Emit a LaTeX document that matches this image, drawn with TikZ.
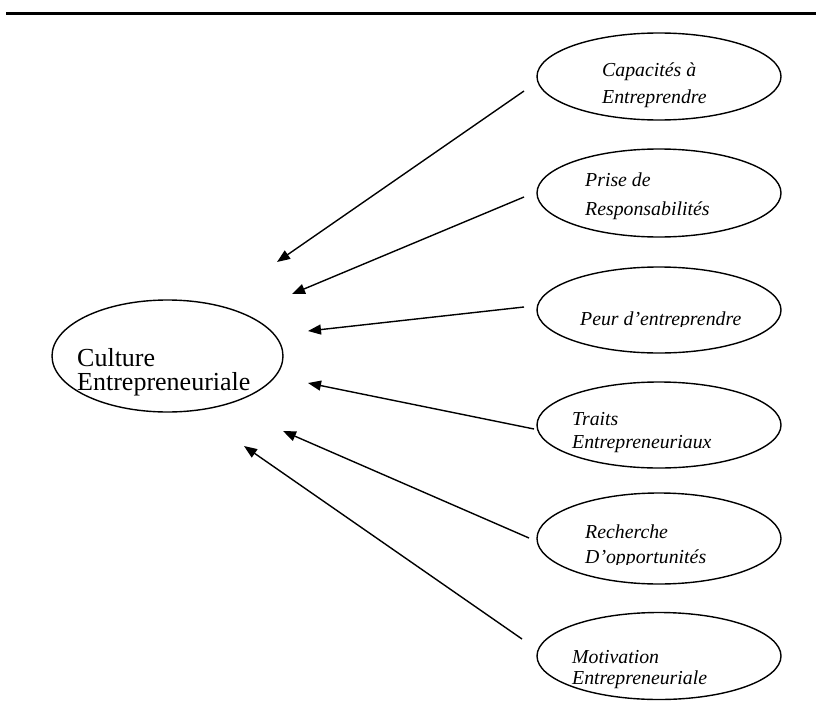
\documentclass[tikz,border=0pt]{standalone}
\usepackage{fontspec}
\setmainfont{Liberation Serif}
\usetikzlibrary{shapes.geometric,arrows.meta}

\tikzset{
  bubble/.style={draw, ellipse, line width=1.4pt, inner sep=0pt},
  smalllbl/.style={anchor=base west, inner sep=0pt, font=\fontsize{19.8}{22}\selectfont\itshape},
  biglbl/.style={anchor=base west, inner sep=0pt, align=left, font=\fontsize{26}{24}\selectfont},
  link/.style={line width=1.4pt, -{Triangle[length=13pt,width=10pt]}},
}

\begin{document}
\begin{tikzpicture}[x=1pt,y=-1pt]
\useasboundingbox (0,0) rectangle (816,717);

% top rule
\draw[line width=3pt] (6,13.8) -- (816,13.8);

% central concept (base anchor sits on the last line)
\node[bubble, minimum width=231pt, minimum height=112pt] (core) at (167.5,356) {};
\node[biglbl] (coreA) at (77,390) {Culture\\Entrepreneuriale};

% factor ellipses
\node[bubble, minimum width=244pt, minimum height=87pt] (f1) at (659,76.5) {};
\node[bubble, minimum width=244pt, minimum height=88pt] (f2) at (659,193) {};
\node[bubble, minimum width=244pt, minimum height=86pt] (f3) at (659,310) {};
\node[bubble, minimum width=244pt, minimum height=86pt] (f4) at (659,425) {};
\node[bubble, minimum width=244pt, minimum height=91pt] (f5) at (659,538.5) {};
\node[bubble, minimum width=244pt, minimum height=87pt] (f6) at (659,656) {};

% factor labels
\node[smalllbl] (t1a) at (602,77) {Capacités à};
\node[smalllbl] (t1b) at (602,103) {Entreprendre};
\node[smalllbl] (t2a) at (585,186) {Prise de};
\node[smalllbl] (t2b) at (585,215) {Responsabilités};
\begin{scope}
  \clip (560,280) rectangle (770,326.5);
  \node[smalllbl] (t3a) at (580,325) {Peur d’entreprendre};
\end{scope}
\node[smalllbl] (t4a) at (572,425) {Traits};
\node[smalllbl] (t4b) at (572,448) {Entrepreneuriaux};
\node[smalllbl] (t5a) at (585,538) {Recherche};
\begin{scope}
  \clip (560,545) rectangle (770,564.5);
  \node[smalllbl] (t5b) at (585,563) {D’opportunités};
\end{scope}
\node[smalllbl] (t6a) at (572,663) {Motivation};
\node[smalllbl] (t6b) at (572,684) {Entrepreneuriale};

% connector end points
\coordinate (s1) at (524,91);   \coordinate (h1) at (277,262);
\coordinate (s2) at (524,197);  \coordinate (h2) at (292,294);
\coordinate (s3) at (524,307);  \coordinate (h3) at (308,331);
\coordinate (s4) at (534,429);  \coordinate (h4) at (308,383);
\coordinate (s5) at (529,538);  \coordinate (h5) at (283,431);
\coordinate (s6) at (522,639);  \coordinate (h6) at (244,446);

% influence arrows
\draw[link] (s1) -- (h1);
\draw[link] (s2) -- (h2);
\draw[link] (s3) -- (h3);
\draw[link] (s4) -- (h4);
\draw[link] (s5) -- (h5);
\draw[link] (s6) -- (h6);
\end{tikzpicture}
\end{document}
